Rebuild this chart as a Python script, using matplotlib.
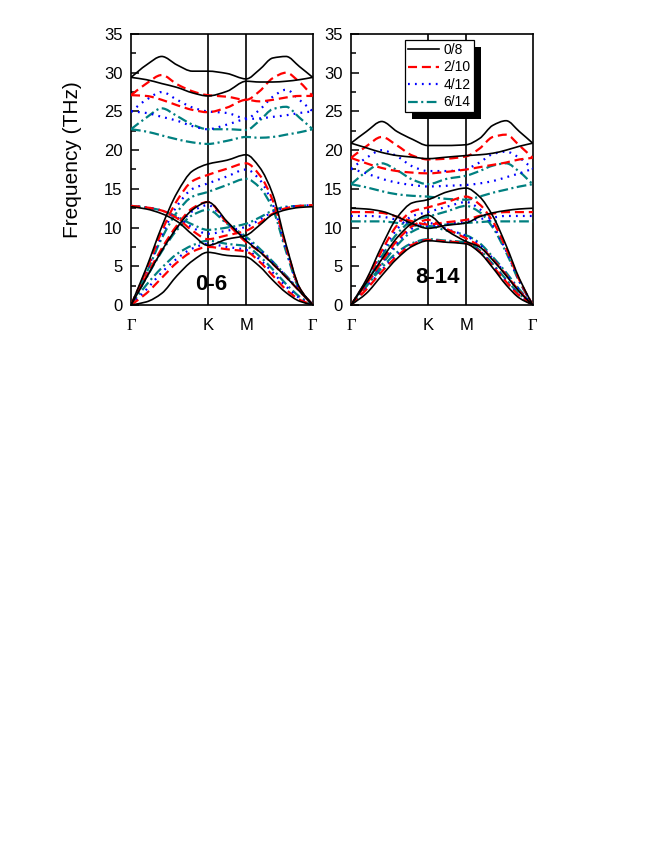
import numpy as np
import matplotlib.pyplot as plt
from matplotlib.patches import Rectangle, PathPatch
from matplotlib.path import Path
from matplotlib.lines import Line2D

plt.rcParams['font.family'] = ['Liberation Sans', 'DejaVu Sans']
plt.rcParams['lines.scale_dashes'] = False

# path Gamma-K-M-Gamma (hexagonal BZ, |GM| = 1)
K_POS = 1.1547
M_POS = 1.7321
G_END = 2.7321
q = [0, 0.231, 0.462, 0.693, 0.924, K_POS, 1.443, M_POS, 1.932, 2.132, 2.332, 2.532, G_END]

series_labels = ['0/8', '2/10', '4/12', '6/14']
panel_labels = ['0-6', '8-14']
tick_names = ['\u0393', 'K', 'M', '\u0393']

# ---- left panel (0-6) bands, THz ----
L_0 = [
    [0, 0.4, 1.5, 3.8, 5.7, 6.8, 6.4, 6.2, 5.0, 3.2, 1.6, 0.5, 0],
    [0, 3.5, 7.0, 10.0, 12.3, 13.3, 10.8, 8.3, 6.9, 5.3, 3.6, 1.8, 0],
    [0, 4.8, 10.1, 14.5, 17.3, 18.2, 18.7, 19.4, 17.8, 14.3, 7.8, 2.3, 0],
    [12.7, 12.4, 11.8, 10.8, 9.1, 7.7, 8.5, 9.0, 10.3, 11.7, 12.3, 12.6, 12.7],
    [29.4, 31.0, 32.1, 31.0, 30.2, 30.2, 29.9, 29.2, 30.4, 31.9, 32.1, 30.8, 29.4],
    [29.4, 29.1, 28.6, 28.1, 27.4, 27.0, 27.6, 28.9, 28.8, 28.8, 28.9, 29.1, 29.4],
]
L_2 = [
    [0, 1.5, 3.5, 5.5, 6.9, 7.5, 7.2, 6.9, 5.6, 3.8, 2.0, 0.7, 0],
    [0, 3.7, 7.3, 10.3, 12.5, 13.3, 10.6, 8.1, 6.9, 5.3, 3.6, 1.8, 0],
    [0, 4.5, 9.5, 13.5, 16.0, 16.8, 17.6, 18.3, 16.8, 13.5, 7.5, 2.2, 0],
    [12.8, 12.6, 12.2, 11.2, 9.6, 8.5, 9.0, 9.6, 10.6, 11.8, 12.5, 12.8, 12.9],
    [27.1, 28.6, 29.7, 28.5, 27.6, 27.1, 26.9, 26.5, 27.6, 29.3, 30.0, 28.8, 27.0],
    [27.1, 27.0, 26.5, 25.8, 25.2, 24.9, 25.5, 26.5, 26.3, 26.5, 26.8, 27.0, 27.0],
]
L_4 = [
    [0, 2.0, 4.2, 6.0, 7.3, 7.9, 7.5, 7.1, 5.9, 4.2, 2.4, 0.9, 0],
    [0, 3.6, 7.1, 10.0, 12.1, 12.9, 10.6, 8.5, 7.1, 5.5, 3.7, 1.9, 0],
    [0, 4.3, 9.0, 12.8, 15.0, 15.7, 16.6, 17.5, 16.2, 13.0, 7.2, 2.1, 0],
    [12.8, 12.6, 12.2, 11.3, 10.0, 9.2, 9.6, 10.1, 11.0, 12.0, 12.6, 12.8, 12.9],
    [25.0, 26.5, 27.5, 26.5, 25.5, 25.0, 24.8, 24.1, 25.2, 26.9, 27.8, 26.5, 25.0],
    [25.0, 24.8, 24.3, 23.8, 23.1, 22.7, 23.3, 24.0, 24.1, 24.3, 24.5, 24.8, 25.0],
]
L_6 = [
    [0, 2.6, 4.8, 6.6, 7.7, 8.3, 7.9, 7.6, 6.3, 4.6, 2.7, 1.1, 0],
    [0, 3.5, 6.9, 9.7, 11.6, 12.3, 10.5, 8.8, 7.3, 5.6, 3.8, 1.9, 0],
    [0, 4.1, 8.6, 12.0, 14.0, 14.6, 15.5, 16.3, 15.2, 12.4, 6.9, 2.0, 0],
    [12.8, 12.6, 12.2, 11.4, 10.4, 9.7, 10.0, 10.5, 11.3, 12.2, 12.7, 12.8, 12.9],
    [22.7, 24.2, 25.4, 24.4, 23.3, 22.7, 22.7, 22.6, 23.8, 25.3, 25.6, 24.2, 22.7],
    [22.7, 22.4, 21.9, 21.4, 21.0, 20.8, 21.2, 21.7, 21.6, 21.7, 22.0, 22.3, 22.7],
]

# ---- right panel (8-14) bands, THz ----
R_8 = [
    [0, 1.5, 3.8, 6.0, 7.6, 8.3, 8.1, 7.9, 6.8, 4.8, 2.6, 0.9, 0],
    [0, 2.9, 5.9, 8.7, 10.6, 11.6, 9.6, 8.2, 7.5, 5.8, 3.8, 1.7, 0],
    [0, 3.3, 7.6, 11.3, 13.2, 13.6, 14.6, 15.1, 14.0, 11.5, 7.7, 3.4, 0],
    [12.5, 12.4, 12.1, 11.4, 10.5, 9.9, 10.3, 10.6, 11.4, 11.9, 12.2, 12.4, 12.5],
    [20.9, 22.4, 23.7, 22.4, 21.4, 20.6, 20.6, 20.7, 21.5, 23.2, 23.8, 22.4, 20.9],
    [20.9, 20.3, 19.7, 19.3, 19.1, 18.9, 19.1, 19.3, 19.4, 19.6, 20.0, 20.5, 20.9],
]
R_10 = [
    [0, 2.0, 4.3, 6.3, 7.8, 8.4, 8.2, 8.0, 6.9, 5.0, 3.0, 1.2, 0],
    [0, 2.7, 5.6, 8.3, 10.2, 11.0, 9.8, 8.6, 7.6, 5.9, 3.9, 1.8, 0],
    [0, 3.1, 7.0, 10.3, 12.1, 12.6, 13.3, 14.0, 13.0, 10.8, 7.3, 3.2, 0],
    [12.0, 12.0, 11.9, 11.4, 10.8, 10.4, 10.7, 11.0, 11.5, 11.8, 12.0, 12.0, 12.0],
    [19.0, 20.5, 21.7, 20.6, 19.3, 18.8, 18.9, 19.2, 20.2, 21.7, 22.0, 20.6, 19.0],
    [19.0, 18.3, 17.7, 17.3, 17.1, 17.0, 17.2, 17.5, 17.8, 18.1, 18.4, 18.8, 19.0],
]
R_12 = [
    [0, 2.2, 4.5, 6.5, 7.9, 8.4, 8.2, 8.0, 7.0, 5.1, 3.1, 1.3, 0],
    [0, 2.6, 5.4, 8.0, 9.9, 10.6, 9.8, 8.9, 7.8, 6.0, 4.0, 1.9, 0],
    [0, 3.0, 6.7, 9.8, 11.5, 12.0, 12.7, 13.3, 12.4, 10.3, 7.0, 3.1, 0],
    [11.5, 11.5, 11.4, 11.0, 10.5, 10.2, 10.5, 10.8, 11.1, 11.3, 11.5, 11.5, 11.5],
    [17.6, 19.0, 20.0, 19.2, 17.9, 17.3, 17.3, 17.6, 18.4, 19.5, 19.8, 19.0, 17.6],
    [17.6, 17.0, 16.3, 15.8, 15.5, 15.3, 15.4, 15.5, 15.7, 16.0, 16.5, 17.0, 17.6],
]
R_14 = [
    [0, 2.4, 4.8, 6.8, 8.0, 8.5, 8.3, 8.1, 7.1, 5.3, 3.3, 1.4, 0],
    [0, 2.5, 5.2, 7.7, 9.5, 10.2, 9.6, 9.0, 8.0, 6.2, 4.2, 2.0, 0],
    [0, 2.8, 6.3, 9.2, 10.9, 11.4, 12.1, 12.8, 12.0, 10.0, 6.8, 3.0, 0],
    [10.8, 10.8, 10.8, 10.6, 10.3, 10.1, 10.4, 10.6, 10.7, 10.8, 10.8, 10.8, 10.8],
    [15.6, 17.2, 18.3, 17.4, 16.2, 15.6, 16.3, 16.7, 17.3, 18.0, 18.3, 17.2, 15.6],
    [15.6, 15.2, 14.7, 14.3, 14.1, 14.0, 13.7, 13.6, 14.0, 14.5, 14.9, 15.3, 15.6],
]

# line styles per series: colour, width, dash pattern (points)
styles = [
    ('black', 1.2, '-'),
    ('#ff0000', 1.6, (0, (6.5, 3.5))),
    ('#0000ff', 1.6, (0, (1.3, 3.7))),
    ('#008080', 1.6, (0, (7, 2.5, 1.5, 2.5))),
]


def smooth_path(x, y):
    # draw a smooth curve through the read points (monotone cubic Bezier segments)
    x = np.asarray(x, float)
    y = np.asarray(y, float)
    h = np.diff(x)
    d = np.diff(y) / h
    m = np.zeros_like(y)
    m[0], m[-1] = d[0], d[-1]
    for i in range(1, len(y) - 1):
        if d[i - 1] * d[i] <= 0:
            m[i] = 0.0
        else:
            w1 = 2 * h[i] + h[i - 1]
            w2 = h[i] + 2 * h[i - 1]
            m[i] = (w1 + w2) / (w1 / d[i - 1] + w2 / d[i])
    verts = [(x[0], y[0])]
    codes = [Path.MOVETO]
    for i in range(len(h)):
        verts += [(x[i] + h[i] / 3, y[i] + m[i] * h[i] / 3),
                  (x[i + 1] - h[i] / 3, y[i + 1] - m[i + 1] * h[i] / 3),
                  (x[i + 1], y[i + 1])]
        codes += [Path.CURVE4] * 3
    return Path(verts, codes)


def setup_axis(ax, show_ylabel):
    ax.set_xlim(0, G_END)
    ax.set_ylim(0, 35)
    ax.set_yticks(np.arange(0, 36, 5))
    ax.set_yticks(np.arange(2.5, 35, 5), minor=True)
    ax.tick_params(axis='y', which='both', direction='in', left=True, right=False,
                   labelsize=12, pad=6, width=1.1)
    ax.tick_params(axis='y', which='major', length=6)
    ax.tick_params(axis='y', which='minor', length=3.5)
    ax.set_xticks([0, K_POS, M_POS, G_END])
    ax.set_xticklabels(tick_names)
    ax.tick_params(axis='x', length=0, labelsize=12, pad=9)
    for lab in ax.get_xticklabels():
        if lab.get_text() == '\u0393':
            lab.set_fontfamily('Liberation Serif')
    for sp in ax.spines.values():
        sp.set_linewidth(1.2)
    ax.axvline(K_POS, color='black', lw=1.2, zorder=1)
    ax.axvline(M_POS, color='black', lw=1.2, zorder=1)
    if show_ylabel:
        ax.set_ylabel('Frequency (THz)', fontsize=15)
        ax.yaxis.set_label_coords(-0.27, 0.535)


def plot_panel(ax, panel_data, text, text_pos):
    # colored series first so black sits on top
    for idx in [3, 2, 1, 0]:
        color, lw, ls = styles[idx]
        for band in panel_data[idx]:
            patch = PathPatch(smooth_path(q, band), fill=False, edgecolor=color,
                              lw=lw, linestyle=ls, zorder=3 + (3 - idx),
                              transform=ax.transData)
            ax.add_patch(patch)
    ax.text(text_pos[0], text_pos[1], text, fontsize=16, fontweight='bold',
            ha='center', va='center', zorder=10)


fig = plt.figure(figsize=(6.54, 8.46), dpi=100)
ax1 = fig.add_axes([131 / 654, 1 - 305 / 846, 181.7 / 654, 271 / 846])
ax2 = fig.add_axes([351 / 654, 1 - 305 / 846, 181.7 / 654, 271 / 846])

setup_axis(ax1, True)
setup_axis(ax2, False)
plot_panel(ax1, [L_0, L_2, L_4, L_6], panel_labels[0], (1.2, 2.7))
plot_panel(ax2, [R_8, R_10, R_12, R_14], panel_labels[1], (1.30, 3.6))

handles = [Line2D([], [], color=c, lw=w, linestyle=s) for c, w, s in styles]
leg = ax2.legend(handles, series_labels,
                 loc='upper left', bbox_to_anchor=(0.297, 0.978), borderaxespad=0,
                 fontsize=10, frameon=True, fancybox=False, framealpha=1,
                 edgecolor='black', handlelength=2.2, handletextpad=0.35,
                 borderpad=0.22, labelspacing=0.25)
leg.get_frame().set_linewidth(0.9)
leg.set_zorder(20)

# hard black drop shadow behind the legend box
fig.canvas.draw()
bb = leg.get_window_extent().transformed(fig.transFigure.inverted())
shadow = Rectangle((bb.x0 + 7 / 654, bb.y0 - 7 / 846), bb.width, bb.height,
                   transform=fig.transFigure, facecolor='black', edgecolor='none',
                   zorder=19, clip_on=False)
ax2.add_patch(shadow)

fig.savefig('out.png', dpi=100)
